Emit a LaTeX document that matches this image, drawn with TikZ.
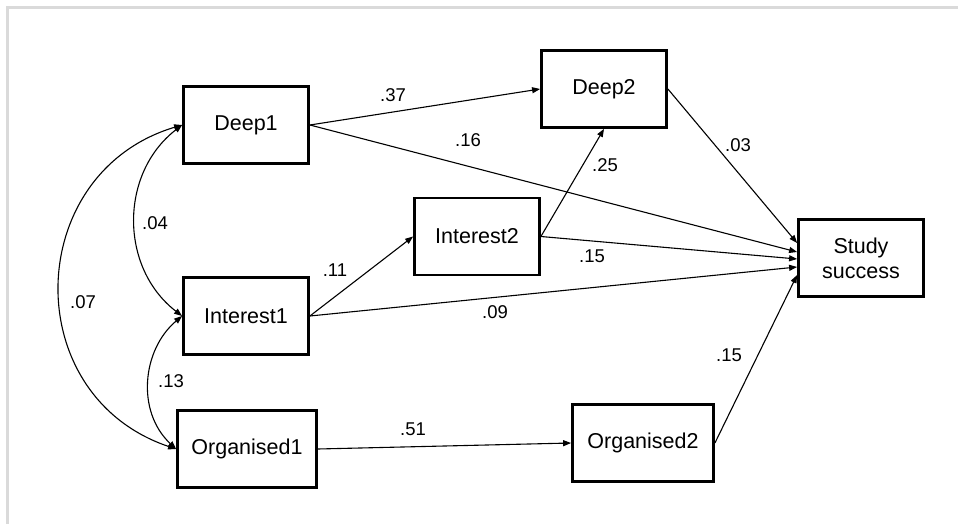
\documentclass[tikz,border=0pt]{standalone}
\usepackage{fontspec}
\setmainfont{Liberation Sans}
\usetikzlibrary{arrows.meta}
\definecolor{framegray}{RGB}{218,218,218}
\begin{document}
\begin{tikzpicture}[x=1pt,y=-1pt,
  var/.style={draw, line width=2.8pt, inner sep=0pt, minimum width=125pt,
    minimum height=77pt, font=\fontsize{21.5}{25}\selectfont, align=center},
  arr/.style={line width=1.1pt, -{Triangle[length=8pt,width=6pt]}},
  cov/.style={line width=1.1pt, {Triangle[length=8pt,width=6pt]}-{Triangle[length=8pt,width=6pt]}},
  lbl/.style={font=\fontsize{18.5}{20}\selectfont, inner sep=0pt}]
\useasboundingbox (0,0) rectangle (958,524);
\draw[line width=2.5pt, framegray] (7.3,524) -- (7.3,7.3) -- (958,7.3);

% variables
\node[var] (d1) at (246,125) {Deep1};
\node[var] (d2) at (604,89) {Deep2};
\node[var] (i2) at (477,236.5) {Interest2};
\node[var] (i1) at (246,316) {Interest1};
\node[var, minimum width=139pt] (o1) at (247,449) {Organised1};
\node[var, minimum width=141pt] (o2) at (643,443) {Organised2};
\node[var] (ss) at (861,258) {Study\\success};

% directed paths
\draw[arr] (d1.east) -- (d2.west);
\draw[arr] (d1.east) -- ([yshift=6pt]ss.west);
\draw[arr] (d2.east) -- ([yshift=15pt]ss.west);
\draw[arr] (i2.east) -- (d2.south);
\draw[arr] (i2.east) -- ([yshift=-1pt]ss.west);
\draw[arr] (i1.east) -- (i2.west);
\draw[arr] (i1.east) -- ([yshift=-9pt]ss.west);
\draw[arr] (o1.east) -- (o2.west);
\draw[arr] (o2.east) -- ([yshift=-17pt]ss.west);

% covariances
\draw[cov] (d1.west) .. controls +(-62.7,48.3) and +(-62.7,-48.3) .. (i1.west);
\draw[cov] (d1.west) .. controls +(-159,47.6) and +(-159,-53.6) .. (o1.west);
\draw[cov] (i1.west) .. controls +(-40.1,33.7) and +(-40.1,-37.3) .. (o1.west);

% coefficients
\node[lbl] (l37) at (393,95) {.37};
\node[lbl] (l16) at (468,140) {.16};
\node[lbl] (l25) at (605,165) {.25};
\node[lbl] (l03) at (738,145) {.03};
\node[lbl] (l04) at (155,223) {.04};
\node[lbl] (l07) at (83,302) {.07};
\node[lbl] (l11) at (335,270) {.11};
\node[lbl] (l15a) at (592,256) {.15};
\node[lbl] (l09) at (495,312) {.09};
\node[lbl] (l13) at (171,381) {.13};
\node[lbl] (l51) at (413,429) {.51};
\node[lbl] (l15b) at (729,355) {.15};
\end{tikzpicture}
\end{document}
